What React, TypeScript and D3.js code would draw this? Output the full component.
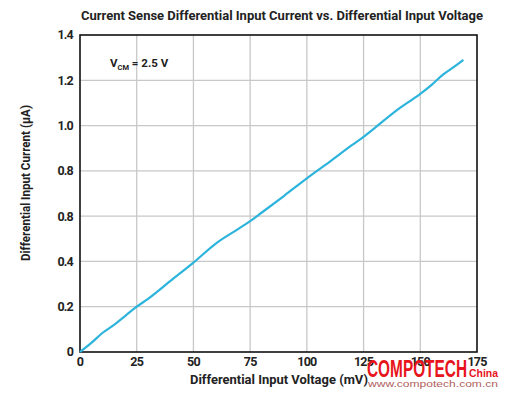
import React from "react";
import * as d3 from "d3";

const voltages = [0, 5, 10, 15, 20, 25, 30, 40, 50, 60, 70, 75, 80, 90, 100, 110, 120, 125, 130, 140, 150, 155, 160, 165, 169];
const currents = [0, 0.04, 0.085, 0.12, 0.16, 0.2, 0.235, 0.315, 0.395, 0.48, 0.545, 0.578, 0.615, 0.69, 0.767, 0.84, 0.915, 0.95, 0.99, 1.07, 1.14, 1.18, 1.225, 1.26, 1.29];
const xTicks = [0, 25, 50, 75, 100, 125, 150, 175];
const yTicks = [0, 0.2, 0.4, 0.6, 0.8, 1.0, 1.2, 1.4];
const yTickLabels = ["0", "0.2", "0.4", "0.8", "0.8", "1.0", "1.2", "1.4"];

const W = 506, H = 396;
const L = 80, R = 477, T = 35, B = 352;
const FONT = "Roboto, 'DejaVu Sans', sans-serif";

export default function App() {
  const x = d3.scaleLinear().domain([0, 175]).range([L, R]);
  const y = d3.scaleLinear().domain([0, 1.4]).range([B, T]);
  const data = voltages.map((v, i) => [v, currents[i]] as [number, number]);
  const line = d3.line<[number, number]>().x(d => x(d[0])).y(d => y(d[1])).curve(d3.curveMonotoneX);

  return (
    <svg width={W} height={H} style={{ position: "absolute", left: 0, top: 0, background: "#fff" }} fontFamily={FONT}>
      <rect x={0} y={0} width={W} height={H} fill="#fff" />
      <text x={282} y={20} textAnchor="middle" fontSize={12.5} fontWeight={700} fill="#222"
        textLength={402} lengthAdjust="spacingAndGlyphs">
        Current Sense Differential Input Current vs. Differential Input Voltage
      </text>
      {xTicks.slice(1, -1).map(t => (
        <line key={"gx" + t} x1={x(t)} x2={x(t)} y1={T} y2={B} stroke="#c8c8c8" strokeWidth={1.3} />
      ))}
      {yTicks.slice(1, -1).map(t => (
        <line key={"gy" + t} x1={L} x2={R} y1={y(t)} y2={y(t)} stroke="#c8c8c8" strokeWidth={1.3} />
      ))}
      <rect x={L} y={T} width={R - L} height={B - T} fill="none" stroke="#111" strokeWidth={1.6} />
      <path d={line(data) || ""} fill="none" stroke="#2db4dc" strokeWidth={2.2} />
      {yTicks.map((t, i) => (
        <text key={"yt" + t} x={73} y={y(t)} dy="0.35em" textAnchor="end" fontSize={12.5} fontWeight={700} fill="#222"
          letterSpacing={-0.8}>{yTickLabels[i]}</text>
      ))}
      {xTicks.map(t => (
        <text key={"xt" + t} x={x(t)} y={366} textAnchor="middle" fontSize={12.5} fontWeight={700} fill="#222"
          letterSpacing={-0.8}>{t}</text>
      ))}
      <text x={279} y={384} textAnchor="middle" fontSize={12.5} fontWeight={700} fill="#222"
        textLength={178} lengthAdjust="spacingAndGlyphs">Differential Input Voltage (mV)</text>
      <text transform={`translate(30,183) rotate(-90)`} textAnchor="middle" fontSize={12.5} fontWeight={700} fill="#222"
        textLength={156} lengthAdjust="spacingAndGlyphs">Differential Input Current (μA)</text>
      <text x={110} y={67} fontSize={11.5} fontWeight={700} fill="#222">
        V<tspan fontSize={7.5} dy={3}>CM</tspan><tspan dy={-3}> = 2.5 V</tspan>
      </text>
      <text x={367} y={377} fontSize={23} fontWeight={900} fill="#e8141b" textLength={100} lengthAdjust="spacingAndGlyphs"
        fontFamily="'Liberation Sans', Arial, sans-serif">COMPOTECH</text>
      <text x={469} y={377} fontSize={10.5} fontWeight={700} fill="#e8141b"
        textLength={29} lengthAdjust="spacingAndGlyphs" fontFamily="'Liberation Sans', Arial, sans-serif">China</text>
      <text x={368} y={387} fontSize={9.5} fill="#b06060" textLength={130} lengthAdjust="spacingAndGlyphs"
        fontFamily="'Liberation Sans', Arial, sans-serif">www.compotech.com.cn</text>
    </svg>
  );
}
